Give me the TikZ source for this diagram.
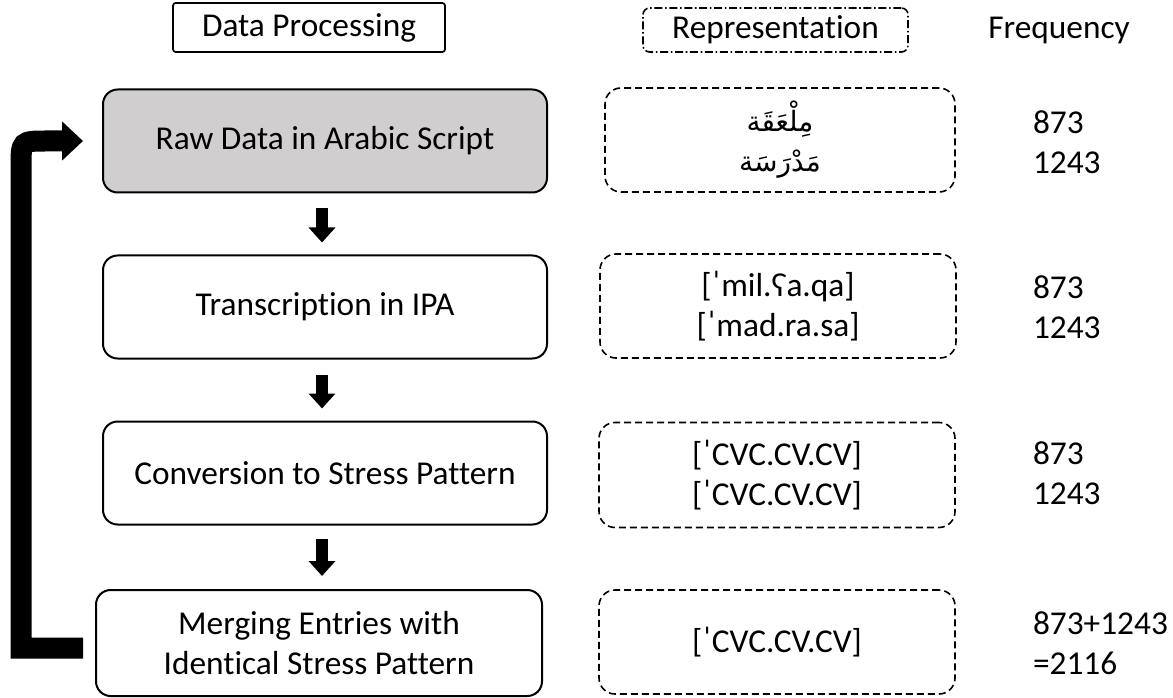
\documentclass[tikz,border=0pt]{standalone}
\usepackage{fontspec}
\setmainfont[Ligatures=NoCommon]{Carlito}
\newfontfamily\arabicfont[Script=Arabic]{DejaVu Sans}
\TeXXeTstate=1
\usetikzlibrary{arrows.meta,calc}
\definecolor{boxgray}{HTML}{D0CECE}

\begin{document}
\begin{tikzpicture}[x=0.75pt,y=-0.75pt,
  every node/.style={font=\fontsize{25}{30}\selectfont, inner sep=0pt, outer sep=0pt},
  headbox/.style={draw, line width=1.3pt, rounded corners=2pt},
  stage/.style={draw, line width=1.5pt, rounded corners=11pt,
    minimum width=444*0.75pt, minimum height=103*0.75pt, align=center},
  repbox/.style={draw, line width=1.2pt, rounded corners=12pt,
    dash pattern=on 5.25pt off 3pt,
    minimum width=352*0.75pt, minimum height=104*0.75pt, align=center},
  freq/.style={anchor=west, align=left},
  blockarrow/.style={line width=9pt, -{Triangle[length=11.25pt,width=19.5pt]}},
  feedback/.style={line width=15.75pt, line join=miter,
    -{Triangle[length=15.75pt,width=28.5pt]}}]

\useasboundingbox (0,0) rectangle (1173,698);

% column headers
\node[headbox, minimum width=272*0.75pt, minimum height=49*0.75pt] (hproc) at (309,27.5) {Data Processing};
\node[headbox, rounded corners=5pt, line width=1.2pt,
  dash pattern=on 6pt off 2pt on 1.2pt off 2pt,
  minimum width=265*0.75pt, minimum height=44*0.75pt] (hrep) at (775.5,30) {Representation};
\node (hfreq) at (1059,30) {Frequency};

% processing stages
\node[stage, fill=boxgray] (s1) at (325,141) {Raw Data in Arabic Script};
\node[stage] (s2) at (325,307) {Transcription in IPA};
\node[stage] (s3) at (325,473) {Conversion to Stress Pattern};
\node[stage, minimum width=446*0.75pt, minimum height=106*0.75pt] (s4) at (319,643)
  {Merging Entries with\\Identical Stress Pattern};

% representations
\node[repbox, minimum width=350*0.75pt] (r1) at (780,140)
  {\arabicfont\fontsize{21}{30}\selectfont\beginR مِلْعَقَة\endR\\
   \arabicfont\fontsize{21}{30}\selectfont\beginR مَدْرَسَة\endR};
\node[repbox, minimum width=356*0.75pt] (r2) at (778,306) {{[ˈmil.ʕa.qa]}\\{[ˈmad.ra.sa]}};
\node[repbox, minimum width=356*0.75pt, minimum height=105*0.75pt] (r3) at (777,475) {{[ˈCVC.CV.CV]}\\{[ˈCVC.CV.CV]}};
\node[repbox, minimum width=356*0.75pt, minimum height=104*0.75pt] (r4) at (777,642) {{[ˈCVC.CV.CV]}};

% frequencies
\node[freq] (f1) at (1033,142) {873\\1243};
\node[freq] (f2) at (1033,307) {873\\1243};
\node[freq] (f3) at (1033,473) {873\\1243};
\node[freq] (f4) at (1033,643) {873+1243\\=2116};

% arrows between stages
\draw[blockarrow] ($(s1.south)+(-3,16)$) -- ($(s2.north)+(-3,-13)$);
\draw[blockarrow] ($(s2.south)+(-3,16)$) -- ($(s3.north)+(-3,-13)$);
\draw[blockarrow] ($(s3.south)+(-3,14)$) -- ($(s4.north)+(3,-14)$);

% feedback loop from the last stage back to the first
\coordinate (fbx) at (21,0);
\coordinate (fb0) at ($(s4.west)+(-13,5)$);
\coordinate (fbc) at (fbx |- s1.west);
\draw[feedback] (fb0) -- (fb0 -| fbx) -- ($(fbc)+(0,26)$)
  .. controls (fbc) .. ($(fbc)+(26,0)$) -- ($(s1.west)+(-20,0)$);
\end{tikzpicture}
\end{document}
